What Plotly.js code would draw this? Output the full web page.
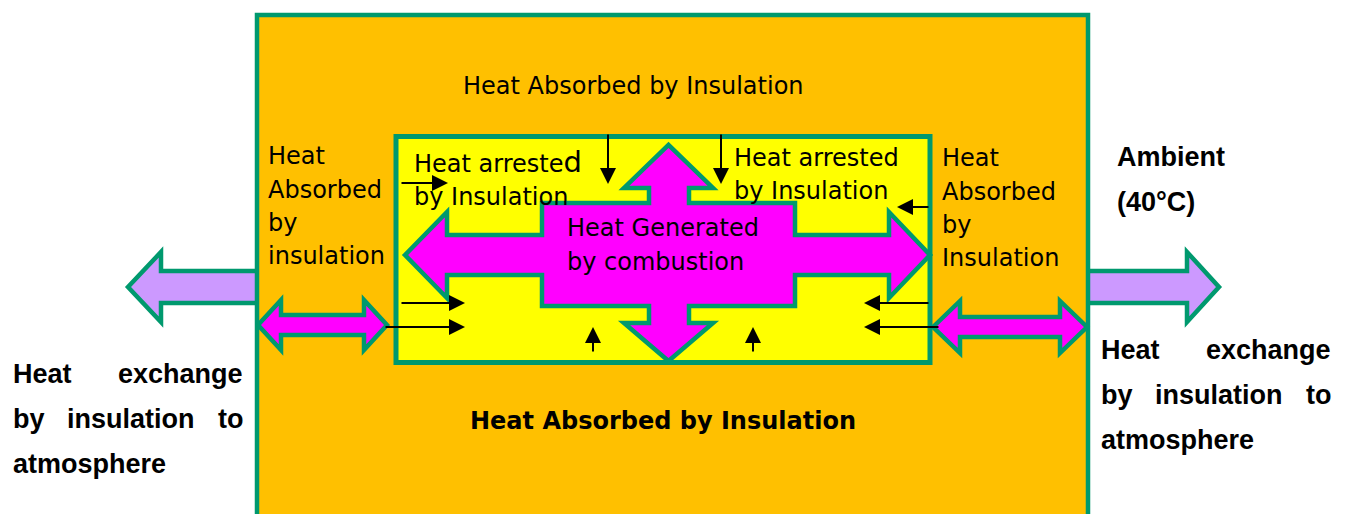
<!DOCTYPE html>
<html>
<head>
<meta charset="utf-8">
<script src="https://cdn.plot.ly/plotly-3.0.1.min.js"></script>
<style>html,body{margin:0;padding:0;background:#fff;}#chart{width:1349px;height:514px;}</style>
</head>
<body>
<div id="chart"></div>
<script>
// ---- text content of the diagram ----
const topLabel = 'Heat Absorbed by Insulation';
const bottomLabel = 'Heat Absorbed by Insulation';
const leftSideLines = ['Heat', 'Absorbed', 'by', 'insulation'];
const rightSideLines = ['Heat', 'Absorbed', 'by', 'Insulation'];
const arrestedLines = ['Heat arrested', 'by Insulation'];
const centreLines = ['Heat Generated', 'by combustion'];
const ambientLines = ['Ambient', '(40°C)'];
const exchangeWords = [['Heat', 'exchange'], ['by', 'insulation', 'to'], ['atmosphere']];

// ---- colours ----
const GREEN = '#00996E', ORANGE = '#FFC000', YELLOW = '#FFFF00', MAGENTA = '#FF00FF', LILAC = '#CC99FF';
const VERDANA = '"DejaVu Sans", Verdana, sans-serif';
const ARIAL = '"Liberation Sans", Arial, sans-serif';

function poly(pts) { return 'M' + pts.map(p => p[0] + ',' + p[1]).join(' L') + ' Z'; }
function shape(pts, fill, lw) {
  return {type: 'path', xref: 'x', yref: 'y', path: poly(pts), fillcolor: fill,
          line: {color: GREEN, width: lw}, layer: 'above'};
}
// horizontal double arrow
function dblArrow(x0, x1, yc, head, hh, sh) {
  return [[x0, yc], [x0 + head, yc - hh], [x0 + head, yc - sh], [x1 - head, yc - sh], [x1 - head, yc - hh],
          [x1, yc], [x1 - head, yc + hh], [x1 - head, yc + sh], [x0 + head, yc + sh], [x0 + head, yc + hh]];
}
// single horizontal arrow; tip at xt, tail at xb
function oneArrow(xt, xb, yc, head, hh, sh) {
  const d = xb > xt ? 1 : -1;
  return [[xt, yc], [xt + d * head, yc - hh], [xt + d * head, yc - sh], [xb, yc - sh],
          [xb, yc + sh], [xt + d * head, yc + sh], [xt + d * head, yc + hh]];
}

const shapes = [];
// lilac outward arrows (beneath the insulation box)
shapes.push(shape(oneArrow(128, 258, 287, 33, 35, 16), LILAC, 4.5));
shapes.push(shape(oneArrow(1219, 1087, 287, 32, 35, 16), LILAC, 4.5));
// insulation (outer) box
shapes.push(shape([[257, 15], [1088, 15], [1088, 540], [257, 540]], ORANGE, 4.5));
// combustion chamber (inner) box
shapes.push(shape([[396, 136.5], [930, 136.5], [930, 362.5], [396, 362.5]], YELLOW, 5));
// cross of generated heat
const cx = 668.5, cy = 255;
const cross = [
  [405, cy], [447, 212], [447, 235], [542, 235], [542, 203], [649, 203], [649, 188], [624, 188], [cx, 145],
  [713, 188], [689, 188], [689, 203], [795, 203], [795, 235], [889, 235], [889, 212], [930, cy],
  [889, 298], [889, 275], [795, 275], [795, 306], [689, 306], [689, 323], [713, 323], [cx, 361],
  [624, 323], [649, 323], [649, 306], [542, 306], [542, 275], [447, 275], [447, 298]
];
shapes.push(shape(cross, MAGENTA, 4.5));
// magenta double arrows through the insulation
shapes.push(shape(dblArrow(258, 387, 325, 23, 25, 10), MAGENTA, 4.5));
shapes.push(shape(dblArrow(933, 1087, 327, 27, 26, 10), MAGENTA, 4.5));

const annotations = [];
function txt(t, x, y, size, fam, opts) {
  annotations.push(Object.assign({text: t, x: x, y: y, xref: 'x', yref: 'y', showarrow: false,
    xanchor: 'left', yanchor: 'middle', font: {family: fam, size: size, color: '#000'}}, opts || {}));
}
// small black arrows: [tailX, tailY, headX, headY]
const blackArrows = [
  [400, 183, 448, 183], [400, 303, 465, 303], [384, 327, 465, 327],
  [593, 353, 593, 327], [753, 353, 753, 327],
  [608, 133, 608, 184], [721, 133, 721, 184],
  [930, 207, 897, 207], [930, 303, 864, 303], [940, 327, 864, 327]
];
blackArrows.forEach(a => annotations.push({
  x: a[2], y: a[3], ax: a[0], ay: a[1], xref: 'x', yref: 'y', axref: 'x', ayref: 'y', text: '',
  showarrow: true, arrowhead: 2, arrowsize: 1.6, arrowwidth: 2, arrowcolor: '#000', standoff: 0
}));

txt(topLabel, 461, 86, 24, VERDANA);
txt(bottomLabel, 663, 421, 24, VERDANA, {xanchor: 'center', font: {family: VERDANA, size: 24, color: '#000', weight: 'bold'}});
txt('<b>' + bottomLabel + '</b>', 663, 421, 24, VERDANA, {xanchor: 'center', visible: false});
[156, 190, 223, 256].forEach((y, i) => txt(leftSideLines[i], 266, y, 24, VERDANA));
[158, 192, 225, 258].forEach((y, i) => txt(rightSideLines[i], 940, y, 24, VERDANA));
const a0 = arrestedLines[0];
txt(a0.slice(0, -1) + '<span style="font-size:29px">' + a0.slice(-1) + '</span>', 412, 162, 24, VERDANA);
txt(arrestedLines[1], 412, 197, 24, VERDANA);
txt(arrestedLines[0], 732, 158, 24, VERDANA);
txt(arrestedLines[1], 732, 191, 24, VERDANA);
txt(centreLines[0], 565, 228, 24, VERDANA);
txt(centreLines[1], 565, 262, 24, VERDANA);
const boldA = {family: ARIAL, size: 27, color: '#000', weight: 'bold'};
txt(ambientLines[0], 1115, 157, 27, ARIAL, {font: boldA});
txt(ambientLines[1], 1115, 202, 27, ARIAL, {font: boldA});
// justified bold block: left edge, right edge, first line y
function exchangeBlock(xl, xr, y0) {
  const ys = [y0, y0 + 45, y0 + 90];
  txt(exchangeWords[0][0], xl - 2, ys[0], 27, ARIAL, {font: boldA});
  txt(exchangeWords[0][1], xr + 2, ys[0], 27, ARIAL, {font: boldA, xanchor: 'right'});
  txt(exchangeWords[1][0], xl - 2, ys[1], 27, ARIAL, {font: boldA});
  txt(exchangeWords[1][1], xl + 118, ys[1], 27, ARIAL, {font: boldA, xanchor: 'center'});
  txt(exchangeWords[1][2], xr + 2, ys[1], 27, ARIAL, {font: boldA, xanchor: 'right'});
  txt(exchangeWords[2][0], xl - 2, ys[2], 27, ARIAL, {font: boldA});
}
exchangeBlock(13, 243, 374);
exchangeBlock(1101, 1331, 350);

const layout = {
  width: 1349, height: 514, margin: {l: 0, r: 0, t: 0, b: 0},
  paper_bgcolor: '#fff', plot_bgcolor: '#fff', showlegend: false,
  xaxis: {range: [0, 1349], visible: false, fixedrange: true},
  yaxis: {range: [514, 0], visible: false, fixedrange: true},
  shapes: shapes, annotations: annotations
};
Plotly.newPlot('chart', [{x: [], y: [], type: 'scatter', mode: 'markers'}], layout, {staticPlot: true, displayModeBar: false});
</script>
</body>
</html>
